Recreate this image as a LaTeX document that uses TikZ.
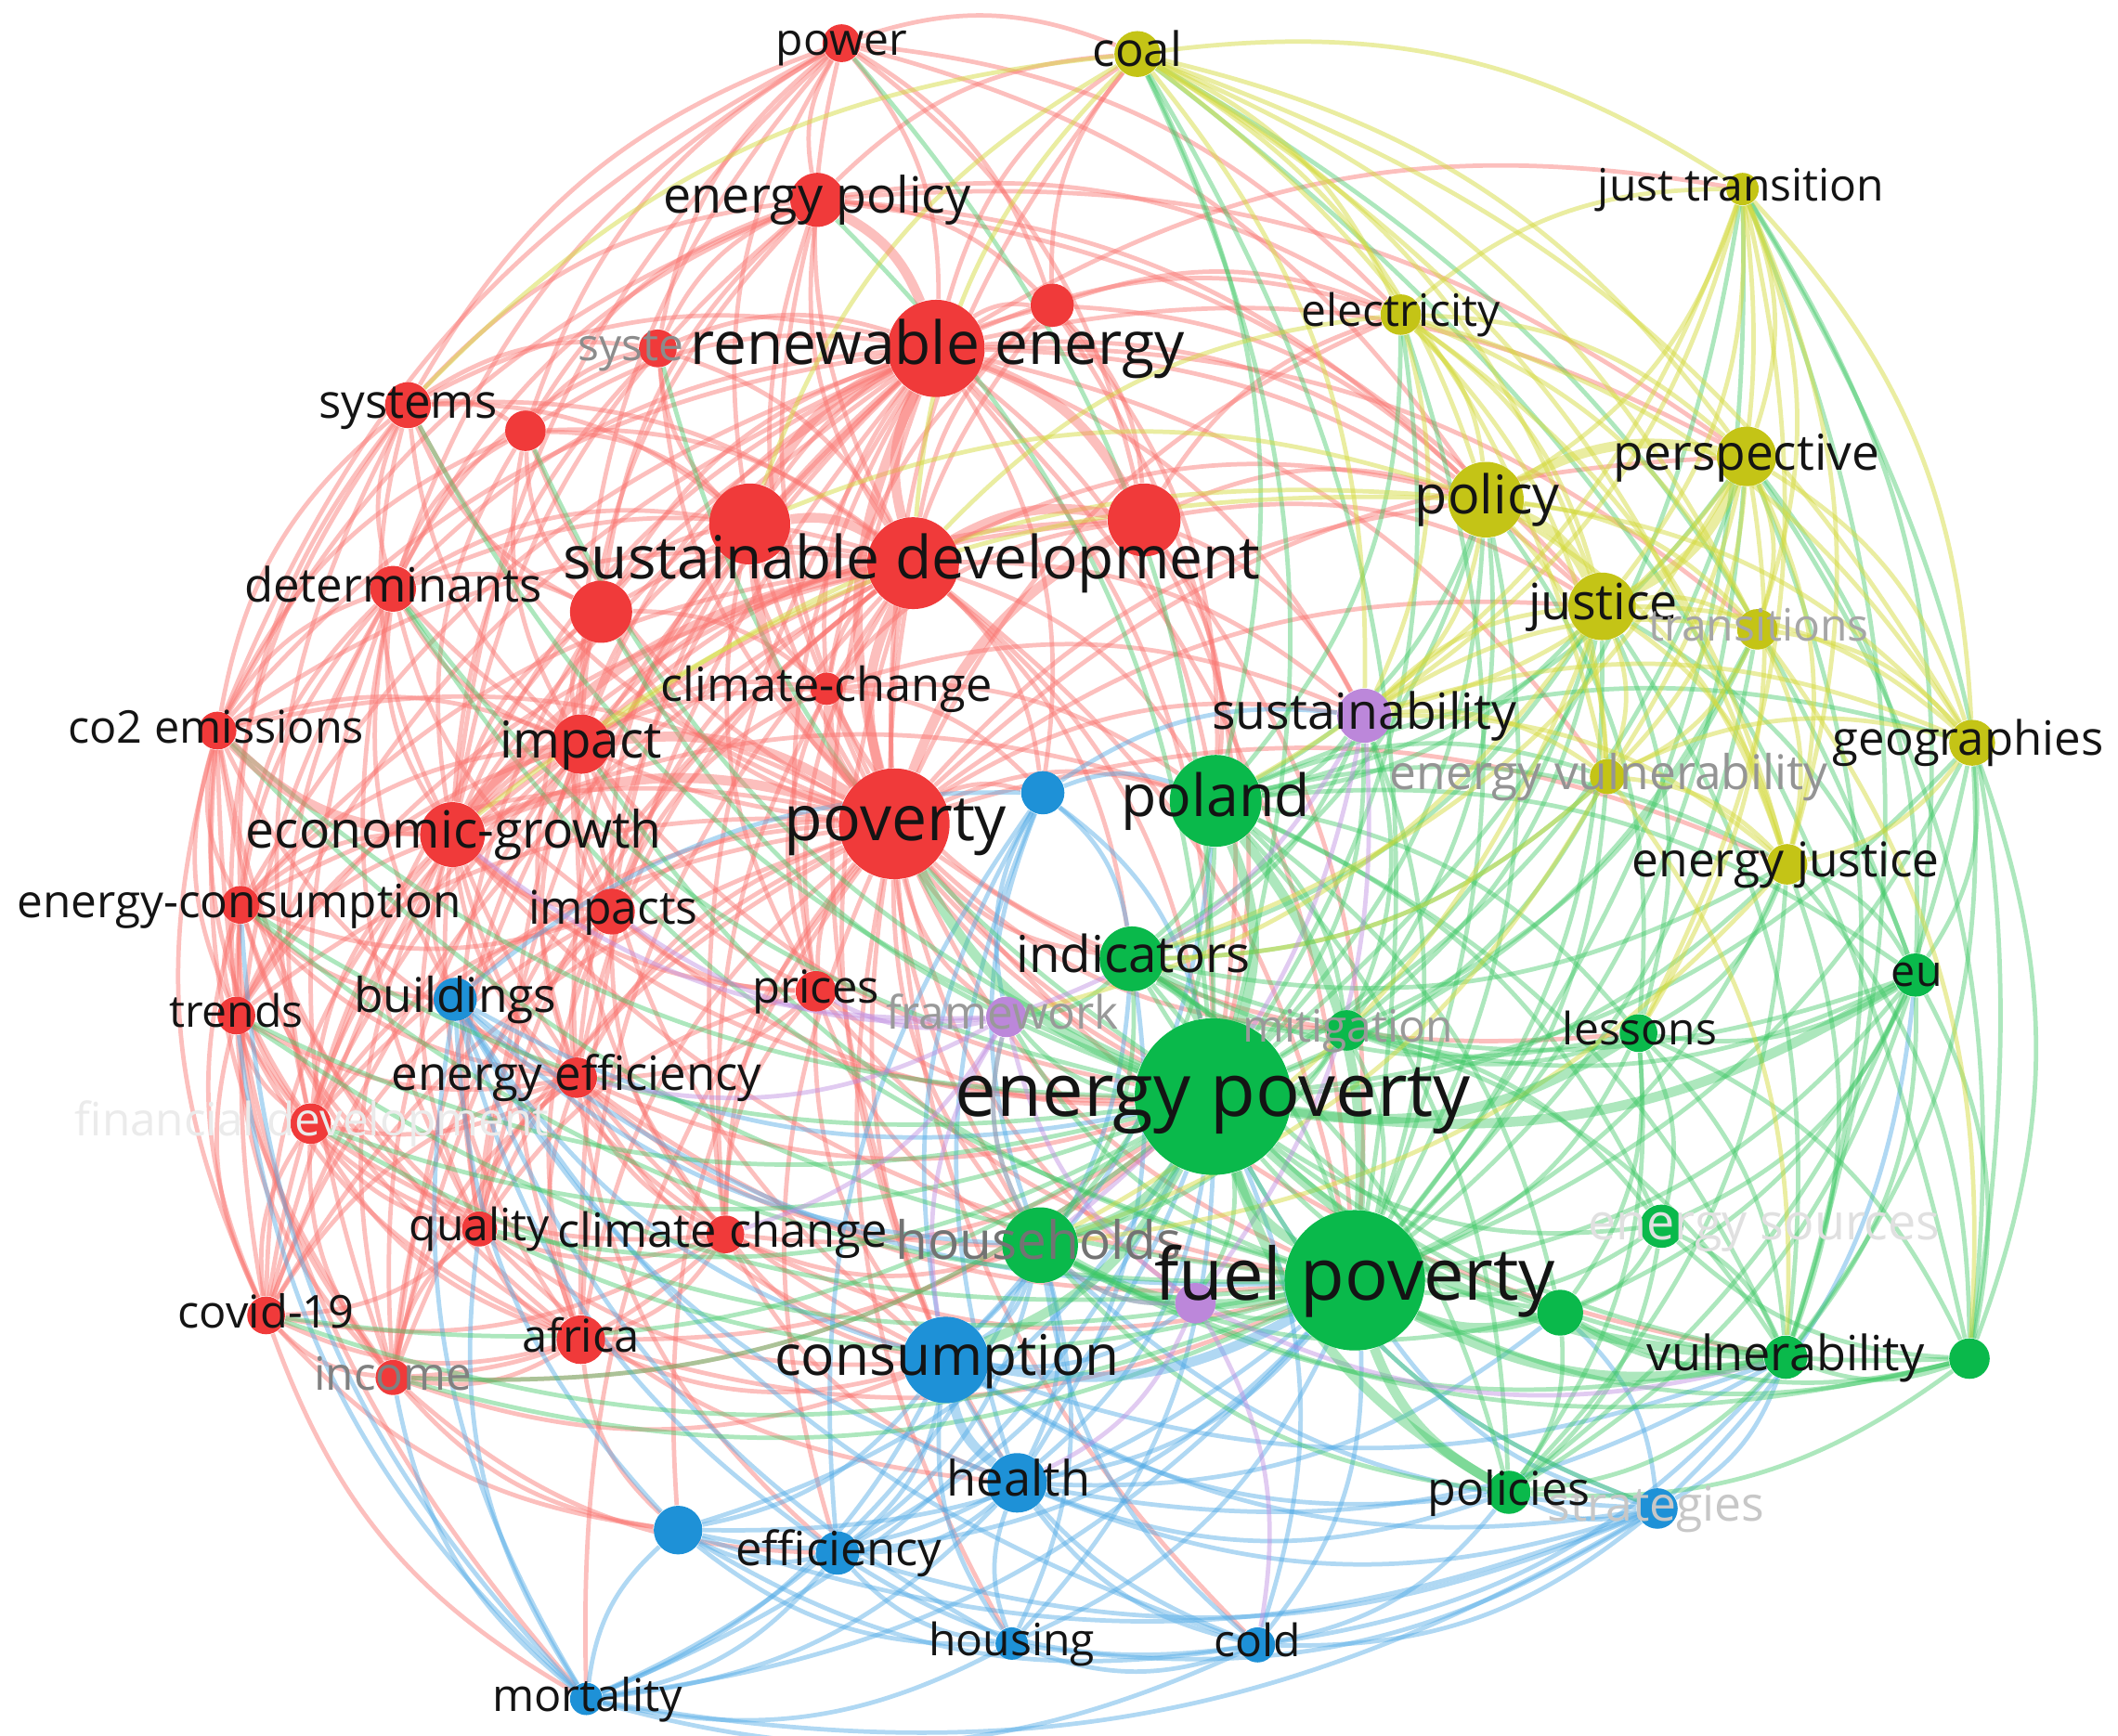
\documentclass[tikz,border=0pt]{standalone}
\usepackage{fontspec}
\setmainfont{Open Sans}
\pgfdeclarelayer{bg}\pgfdeclarelayer{fg}
\pgfsetlayers{bg,main,fg}
\definecolor{nR}{RGB}{240,58,58}
\definecolor{nG}{RGB}{10,185,75}
\definecolor{nB}{RGB}{30,145,215}
\definecolor{nY}{RGB}{196,196,22}
\definecolor{nP}{RGB}{188,135,218}
\definecolor{eRc}{RGB}{250,115,110}
\definecolor{eGc}{RGB}{60,200,100}
\definecolor{eBc}{RGB}{80,170,230}
\definecolor{eYc}{RGB}{212,218,60}
\definecolor{ePc}{RGB}{190,140,225}
\definecolor{lab}{RGB}{20,20,20}
\tikzset{
  x=0.014547cm, y=-0.014547cm,
  vn/.style={circle,inner sep=0pt,draw=none},
  eR/.style={draw=eRc,draw opacity=0.45,line width=1.35pt},
  eG/.style={draw=eGc,draw opacity=0.42,line width=1.35pt},
  eB/.style={draw=eBc,draw opacity=0.45,line width=1.35pt},
  eY/.style={draw=eYc,draw opacity=0.48,line width=1.35pt},
  eP/.style={draw=ePc,draw opacity=0.45,line width=1.35pt},
  tk/.style={line width=3pt}
}
\newdimen\eAx \newdimen\eAy \newdimen\eBx \newdimen\eBy
\newcommand\edgeto[3]{%
  \pgfextractx{\eAx}{\pgfpointanchor{#2}{center}}%
  \pgfextracty{\eAy}{\pgfpointanchor{#2}{center}}%
  \pgfextractx{\eBx}{\pgfpointanchor{#3}{center}}%
  \pgfextracty{\eBy}{\pgfpointanchor{#3}{center}}%
  \pgfmathsetmacro\bnd{20*sign(((\the\eBx-\the\eAx)/100)*(((\the\eAy+\the\eBy)/2+264.9)/100)-((\the\eBy-\the\eAy)/100)*(((\the\eAx+\the\eBx)/2-322.85)/100))}%
  \draw[#1] (#2) to[bend left=\bnd] (#3);}
\newcommand\fan[3]{\foreach \t in {#3}{\edgeto{#1}{#2}{\t}}}
\newcommand\kn[5]{\node[vn,fill=#5,minimum size={2*#4*0.014547cm}] (#1) at (#2,#3) {};}
\newcommand\kl[6]{\pgfmathsetmacro\fsz{#5*0.4139}\pgfmathsetmacro\ybase{#3+0.27*#5}%
  \node[anchor=base,inner sep=0pt,text=#6,font=\fontsize{\fsz pt}{\fsz pt}\selectfont] (#1-l) at (#2,\ybase) {#4};}
\begin{document}
\begin{tikzpicture}
\useasboundingbox (0,0) rectangle (1568,1285);
\begin{pgfonlayer}{bg}
\fill[white] (0,0) rectangle (1568,1285);
\end{pgfonlayer}
% ---------- nodes ----------
\kn{power}{623}{32}{14}{nR}
\kn{enpol}{605}{148}{20}{nR}
\kn{rA}{779}{226}{16}{nR}
\kn{syst}{487}{258}{14}{nR}
\kn{renew}{693}{258}{36}{nR}
\kn{systems}{302}{300}{17}{nR}
\kn{rB}{389}{319}{15}{nR}
\kn{rC}{555}{388}{30}{nR}
\kn{rD}{847}{385}{27}{nR}
\kn{susdev}{676}{417}{34}{nR}
\kn{determ}{291}{436}{17}{nR}
\kn{rE}{445}{453}{23}{nR}
\kn{clc}{612}{510}{12}{nR}
\kn{co2}{161}{541}{14}{nR}
\kn{impact}{430}{551}{22}{nR}
\kn{econ}{335}{618}{24}{nR}
\kn{poverty}{662}{610}{41}{nR}
\kn{encons}{178}{670}{14}{nR}
\kn{impacts}{453}{675}{17}{nR}
\kn{prices}{604}{734}{15}{nR}
\kn{trends}{175}{752}{14}{nR}
\kn{eneff}{427}{798}{15}{nR}
\kn{findev}{230}{832}{15}{nR}
\kn{quality}{355}{910}{13}{nR}
\kn{clc2}{537}{914}{14}{nR}
\kn{covid}{197}{974}{14}{nR}
\kn{africa}{430}{992}{18}{nR}
\kn{income}{291}{1020}{13}{nR}
\kn{bA}{772}{587}{16}{nB}
\kn{build}{337}{740}{16}{nB}
\kn{consum}{700}{1007}{32}{nB}
\kn{health}{753}{1098}{22}{nB}
\kn{bB}{502}{1133}{18}{nB}
\kn{effic}{620}{1150}{16}{nB}
\kn{strat}{1227}{1117}{15}{nB}
\kn{housing}{749}{1217}{12}{nB}
\kn{cold}{931}{1218}{13}{nB}
\kn{mort}{434}{1258}{12}{nB}
\kn{poland}{900}{593}{34}{nG}
\kn{indic}{838}{710}{24}{nG}
\kn{mitig}{997}{763}{15}{nG}
\kn{lessons}{1213}{765}{14}{nG}
\kn{eu}{1418}{722}{16}{nG}
\kn{enpov}{898}{812}{58}{nG}
\kn{ensrc}{1230}{908}{16}{nG}
\kn{househ}{770}{922}{28}{nG}
\kn{fuelpov}{1003}{948}{52}{nG}
\kn{gA}{1155}{972}{17}{nG}
\kn{vuln}{1322}{1005}{16}{nG}
\kn{gB}{1458}{1006}{15}{nG}
\kn{policies}{1117}{1105}{16}{nG}
\kn{sustain}{1010}{530}{20}{nP}
\kn{frame}{745}{753}{15}{nP}
\kn{pA}{885}{965}{15}{nP}
\kn{coal}{842}{40}{17}{nY}
\kn{justtr}{1290}{140}{12}{nY}
\kn{elec}{1037}{233}{15}{nY}
\kn{persp}{1293}{338}{22}{nY}
\kn{policy}{1100}{370}{28}{nY}
\kn{justice}{1186}{449}{25}{nY}
\kn{transit}{1301}{466}{15}{nY}
\kn{geog}{1460}{550}{17}{nY}
\kn{envul}{1190}{575}{13}{nY}
\kn{enjust}{1323}{640}{15}{nY}
% ---------- edges ----------
\begin{pgfonlayer}{bg}
\fan{eR}{power}{enpol,renew,rA,syst,systems,rB,rC,susdev,rD,econ,co2,determ,impact,coal,elec,policy}
\fan{eR}{enpol}{rA,syst,systems,rB,susdev,determ,rE,econ,co2,impact,clc,coal,elec,policy,persp,justice,poverty}
\fan{eR}{rA}{renew,rC,rD,susdev,poverty,clc,coal,elec,policy,enpov,poland}
\fan{eR}{syst}{renew,systems,rB,rC,susdev,determ,econ,poverty}
\fan{eR}{renew}{systems,rB,determ,rE,clc,co2,impact,econ,encons,impacts,prices,trends,eneff,findev,quality,clc2,covid,africa,income,elec,policy,justice,persp,coal,enpov,poland,sustain,fuelpov,consum,justtr,transit,envul,bA}
\fan{eR}{systems}{rB,rC,determ,rE,co2,impact,econ,encons,poverty,trends,susdev,findev}
\fan{eR}{rB}{rC,determ,rE,impact,econ,poverty,susdev,co2}
\fan{eR}{rC}{rE,clc,impact,impacts,determ,prices,eneff,enpov}
\fan{eR}{rD}{clc,policy,justice,sustain,enpov,poland,impact,econ,fuelpov,elec}
\fan{eR}{susdev}{determ,rE,clc,co2,impact,encons,impacts,prices,trends,eneff,findev,quality,clc2,covid,africa,income,enpov,poland,fuelpov,sustain,policy,consum,indic,bA,househ}
\fan{eR}{determ}{rE,co2,impact,econ,encons,poverty,trends,findev,impacts,quality,covid,income,build}
\fan{eR}{rE}{clc,impact,econ,poverty,impacts,eneff,quality}
\fan{eR}{clc}{impact,econ,impacts,prices,enpov,poland,bA,sustain,indic}
\fan{eR}{co2}{impact,encons,trends,findev,covid,quality,income,africa,eneff,poverty,mort}
\fan{eR}{impact}{encons,impacts,prices,trends,eneff,findev,quality,clc2,covid,africa,income,enpov,consum}
\fan{eR}{econ}{encons,impacts,prices,trends,eneff,findev,quality,clc2,covid,africa,income,build,enpov,fuelpov,consum,poland}
\fan{eR}{poverty}{encons,impacts,prices,trends,eneff,findev,quality,clc2,covid,africa,income,fuelpov,poland,indic,health,househ,bA,sustain,policy,justice,elec,coal,build,frame,pA,effic,mitig,lessons,vuln,enjust,persp,mort,housing,cold,bB}
\fan{eR}{encons}{trends,findev,eneff,covid,income,quality,africa,impacts,build}
\fan{eR}{impacts}{prices,eneff,findev,quality,clc2,africa,covid,income,enpov}
\fan{eR}{prices}{eneff,clc2,quality,enpov,fuelpov,consum,househ}
\fan{eR}{trends}{findev,eneff,covid,income,quality,africa}
\fan{eR}{eneff}{findev,quality,clc2,covid,africa,income,build,consum,enpov,fuelpov,househ,effic}
\fan{eR}{findev}{quality,covid,income,africa,clc2}
\fan{eR}{quality}{clc2,covid,africa,income,health,consum}
\fan{eR}{clc2}{africa,covid,income,enpov,fuelpov,consum,househ,health}
\fan{eR}{covid}{africa,income,mort,bB}
\fan{eR}{africa}{income,consum,enpov,fuelpov,bB}
\fan{eR}{income}{consum,bB,effic,enpov}
\fan{eB}{bA}{poland,enpov,indic,consum,househ,health,frame,sustain,effic,build}
\fan{eB}{build}{consum,health,bB,effic,mort,enpov,fuelpov,househ,cold,housing}
\fan{eB}{consum}{bB,effic,housing,cold,mort,strat,househ,indic,poland,pA,policies,vuln}
\fan{eB}{health}{bB,effic,housing,cold,mort,strat,enpov,fuelpov,househ,policies,vuln,indic,gA}
\fan{eB}{bB}{effic,housing,cold,mort,enpov,fuelpov,strat}
\fan{eB}{effic}{housing,cold,mort,strat,enpov,fuelpov,househ}
\fan{eB}{strat}{housing,cold,mort,enpov,fuelpov,vuln,policies,househ,gA,eu}
\fan{eB}{housing}{cold,mort,enpov,fuelpov,househ}
\fan{eB}{cold}{mort,enpov,fuelpov,househ,policies,vuln}
\fan{eB}{mort}{enpov,fuelpov,househ,income,trends,encons,quality}
\fan{eG}{enpov}{mitig,ensrc,gA,gB,sustain,frame,pA,coal,justtr,elec,persp,policy,justice,transit,geog,envul,enjust,power,enpol,systems,determ,co2,encons,trends,findev,covid,quality,income,syst,rB,rE,strat}
\fan{eG}{fuelpov}{indic,mitig,lessons,eu,ensrc,gB,sustain,frame,pA,justtr,persp,policy,justice,transit,geog,envul,enjust,elec,coal,co2,encons,trends,covid,impact,income,determ,quality,findev}
\fan{eG}{poland}{indic,mitig,lessons,eu,househ,vuln,policies,gA,sustain,policy,justice,coal,elec,persp,enjust,envul,geog,ensrc}
\fan{eG}{indic}{mitig,lessons,eu,househ,vuln,policies,gA,frame,sustain,policy,justice,enjust,envul}
\fan{eG}{mitig}{lessons,eu,househ,vuln,ensrc,sustain,policy,justice,transit}
\fan{eG}{lessons}{eu,vuln,gA,gB,ensrc,policies,policy,justice,enjust}
\fan{eG}{eu}{vuln,gB,gA,ensrc,policies,geog,enjust,persp,justice,justtr,coal}
\fan{eG}{ensrc}{vuln,gB,gA,policies}
\fan{eG}{househ}{vuln,policies,gA,pA,frame,gB}
\fan{eG}{gA}{vuln,gB,policies}
\fan{eG}{vuln}{gB,policies,geog,enjust,justtr,persp,justice}
\fan{eG}{gB}{policies,geog,enjust,justtr,persp,coal}
\fan{eG}{policies}{geog,enjust}
\fan{eY}{coal}{justtr,elec,persp,policy,justice,transit,geog,envul,enjust,susdev,sustain,rC,systems}
\fan{eY}{justtr}{elec,persp,policy,justice,transit,geog,envul,enjust,lessons,poland,sustain}
\fan{eY}{elec}{persp,policy,justice,transit,geog,envul,enjust,sustain,susdev}
\fan{eY}{persp}{transit,geog,envul,enjust,sustain,lessons,indic}
\fan{eY}{policy}{transit,geog,envul,enjust,sustain,rC,impact,econ}
\fan{eY}{justice}{transit,geog,envul,enjust,sustain,frame,househ}
\fan{eY}{transit}{geog,envul,enjust,sustain,gB}
\fan{eY}{geog}{envul,enjust,sustain}
\fan{eY}{envul}{enjust,sustain,vuln,househ,indic}
\fan{eY}{enjust}{sustain,househ}
\fan{eP}{sustain}{frame,pA,househ}
\fan{eP}{frame}{pA,eneff,prices,consum,househ,impacts,econ,clc2}
\fan{eP}{pA}{househ,health,vuln,cold}
\fan{eR,tk}{poverty}{renew,susdev,econ,impact,rC,rD,clc}
\fan{eR,tk}{renew}{susdev,rC,rD,enpol}
\fan{eR,tk}{susdev}{rC,rD,econ}
\fan{eR,tk}{econ}{impact,co2}
\fan{eG,tk}{enpov}{fuelpov,poland,indic,househ,vuln,policies,lessons,eu,poverty,consum}
\fan{eG,tk}{fuelpov}{househ,poland,vuln,policies,gA}
\fan{eY,tk}{policy}{justice,persp}
\fan{eY,tk}{justice}{persp}
\fan{eB,tk}{consum}{health,fuelpov}
\end{pgfonlayer}
% ---------- labels ----------
\begin{pgfonlayer}{fg}
\kl{power}{623}{32}{power}{33}{lab}
\kl{enpol}{605}{148}{energy policy}{37}{lab}
\kl{syst}{467}{258}{syste}{33}{black!45}
\kl{renew}{694}{258}{renewable energy}{44}{lab}
\kl{systems}{302}{300}{systems}{35}{lab}
\kl{susdev}{675}{417}{sustainable development}{44}{lab}
\kl{determ}{291}{436}{determinants}{35}{lab}
\kl{clc}{612}{510}{climate-change}{34.7}{lab}
\kl{co2}{160}{541}{co2 emissions}{33.4}{lab}
\kl{impact}{430}{551}{impact}{37.6}{lab}
\kl{econ}{336}{618}{economic-growth}{38}{lab}
\kl{poverty}{663}{610}{poverty}{46.7}{lab}
\kl{encons}{177}{670}{energy-consumption}{34}{lab}
\kl{impacts}{454}{675}{impacts}{34.3}{lab}
\kl{prices}{604}{734}{prices}{33.6}{lab}
\kl{trends}{175}{752}{trends}{33}{lab}
\kl{build}{337}{740}{buildings}{35.4}{lab}
\kl{eneff}{427}{798}{energy efficiency}{35}{lab}
\kl{findev}{231}{832}{financial development}{34}{black!8}
\kl{quality}{355}{910}{quality}{33}{lab}
\kl{clc2}{535}{914}{climate change}{34.8}{lab}
\kl{covid}{197}{974}{covid-19}{33.5}{lab}
\kl{africa}{430}{992}{africa}{33.6}{lab}
\kl{income}{291}{1020}{income}{34}{black!50}
\kl{consum}{701}{1007}{consumption}{41.5}{lab}
\kl{health}{754}{1098}{health}{36}{lab}
\kl{effic}{621}{1150}{efficiency}{34.9}{lab}
\kl{strat}{1226}{1117}{strategies}{35.5}{black!22}
\kl{housing}{749}{1217}{housing}{33}{lab}
\kl{cold}{931}{1218}{cold}{33}{lab}
\kl{mort}{435}{1258}{mortality}{33.4}{lab}
\kl{poland}{900}{593}{poland}{43}{lab}
\kl{indic}{839}{710}{indicators}{37.6}{lab}
\kl{mitig}{998}{763}{mitigation}{33}{black!40}
\kl{lessons}{1214}{765}{lessons}{33}{lab}
\kl{eu}{1419}{722}{eu}{32}{lab}
\kl{enpov}{898}{812}{energy poverty}{54.7}{lab}
\kl{ensrc}{1306}{908}{energy sources}{37}{black!12}
\kl{househ}{769}{922}{households}{39}{black!55}
\kl{fuelpov}{1003}{948}{fuel poverty}{53.5}{lab}
\kl{vuln}{1322}{1005}{vulnerability}{35.9}{lab}
\kl{policies}{1117}{1105}{policies}{34.5}{lab}
\kl{sustain}{1010}{530}{sustainability}{36.8}{lab}
\kl{frame}{742}{753}{framework}{34}{black!40}
\kl{coal}{842}{40}{coal}{35}{lab}
\kl{justtr}{1289}{140}{just transition}{33}{lab}
\kl{elec}{1037}{233}{electricity}{33}{lab}
\kl{persp}{1293}{338}{perspective}{36.6}{lab}
\kl{policy}{1101}{370}{policy}{39.5}{lab}
\kl{justice}{1187}{449}{justice}{37}{lab}
\kl{transit}{1302}{466}{transitions}{33}{black!35}
\kl{geog}{1457}{550}{geographies}{35}{lab}
\kl{envul}{1191}{575}{energy vulnerability}{35.4}{black!42}
\kl{enjust}{1322}{640}{energy justice}{35.4}{lab}
\end{pgfonlayer}
\end{tikzpicture}
\end{document}
